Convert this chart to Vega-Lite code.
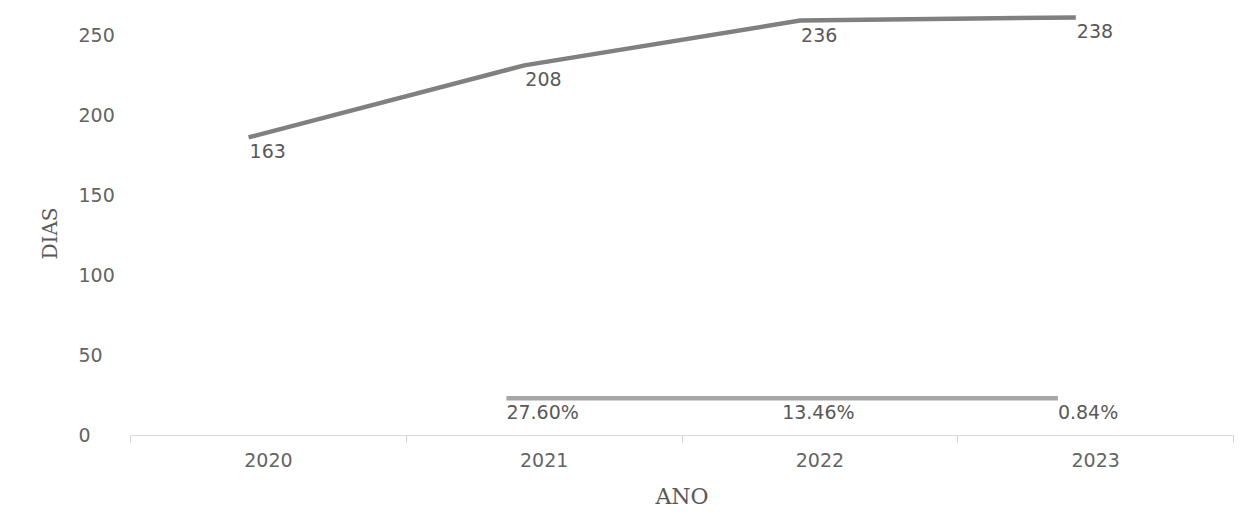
{
  "$schema": "https://vega.github.io/schema/vega-lite/v6.json",
  "autosize": {"type": "none"},
  "padding": {"left": 130, "top": 11, "right": 14, "bottom": 86},
  "width": 1103,
  "height": 424,
  "background": "white",
  "config": {"view": {"stroke": null}},
  "data": {
    "values": [
      {"ano": "2020", "serie": "dias", "valor": 186, "rotulo": "163"},
      {"ano": "2021", "serie": "dias", "valor": 231, "rotulo": "208"},
      {"ano": "2022", "serie": "dias", "valor": 259, "rotulo": "236"},
      {"ano": "2023", "serie": "dias", "valor": 261, "rotulo": "238"},
      {"ano": "2021", "serie": "pct", "valor": 23, "rotulo": "27.60%"},
      {"ano": "2022", "serie": "pct", "valor": 23, "rotulo": "13.46%"},
      {"ano": "2023", "serie": "pct", "valor": 23, "rotulo": "0.84%"}
    ]
  },
  "encoding": {
    "y": {
      "field": "valor",
      "type": "quantitative",
      "scale": {"domain": [0, 265], "nice": false, "zero": true},
      "axis": {
        "values": [0, 50, 100, 150, 200, 250],
        "grid": false,
        "domain": false,
        "ticks": false,
        "tickSize": 0,
        "labelAlign": "left",
        "labelPadding": 52,
        "labelBaseline": "middle",
        "labelFont": "DejaVu Sans",
        "labelFontSize": 19,
        "labelColor": "#646464",
        "title": "DIAS",
        "titleFont": "DejaVu Serif",
        "titleFontSize": 20,
        "titleFontWeight": "normal",
        "titleColor": "#595959",
        "titleAngle": 270,
        "titleAlign": "center",
        "titleBaseline": "middle",
        "titleX": -80,
        "titleY": 222
      }
    }
  },
  "layer": [
    {
      "transform": [{"filter": "datum.serie === 'dias'"}],
      "mark": {"type": "line", "color": "#808080", "strokeWidth": 4.5, "strokeCap": "butt"},
      "encoding": {
        "x": {
          "field": "ano",
          "type": "ordinal",
          "bandPosition": 0.43,
          "scale": {"type": "band", "domain": ["2020", "2021", "2022", "2023"], "paddingInner": 0, "paddingOuter": 0},
          "axis": {
            "tickBand": "extent",
            "labelAngle": 0,
            "domainColor": "#d9d9d9",
            "tickColor": "#d0d0d0",
            "tickSize": 7,
            "labelPadding": 24,
            "labelBaseline": "alphabetic",
            "labelFont": "DejaVu Sans",
            "labelFontSize": 19,
            "labelColor": "#646464",
            "title": "ANO",
            "titleFont": "DejaVu Serif",
            "titleFontSize": 22,
            "titleFontWeight": "normal",
            "titleColor": "#595959",
            "titleBaseline": "alphabetic",
            "titleY": 68
          }
        }
      }
    },
    {
      "transform": [{"filter": "datum.serie === 'pct'"}],
      "mark": {"type": "line", "color": "#a6a6a6", "strokeWidth": 4.5, "strokeCap": "butt"},
      "encoding": {
        "x": {"field": "ano", "type": "ordinal", "bandPosition": 0.365}
      }
    },
    {
      "transform": [{"filter": "datum.serie === 'dias'"}],
      "mark": {"type": "text", "align": "left", "baseline": "top", "dx": 1, "dy": 6, "font": "DejaVu Sans", "fontSize": 19, "color": "#595959"},
      "encoding": {
        "x": {"field": "ano", "type": "ordinal", "bandPosition": 0.43},
        "text": {"field": "rotulo"}
      }
    },
    {
      "transform": [{"filter": "datum.serie === 'pct'"}],
      "mark": {"type": "text", "align": "left", "baseline": "top", "dx": 0, "dy": 6, "font": "DejaVu Sans", "fontSize": 19, "color": "#595959"},
      "encoding": {
        "x": {"field": "ano", "type": "ordinal", "bandPosition": 0.365},
        "text": {"field": "rotulo"}
      }
    }
  ]
}
